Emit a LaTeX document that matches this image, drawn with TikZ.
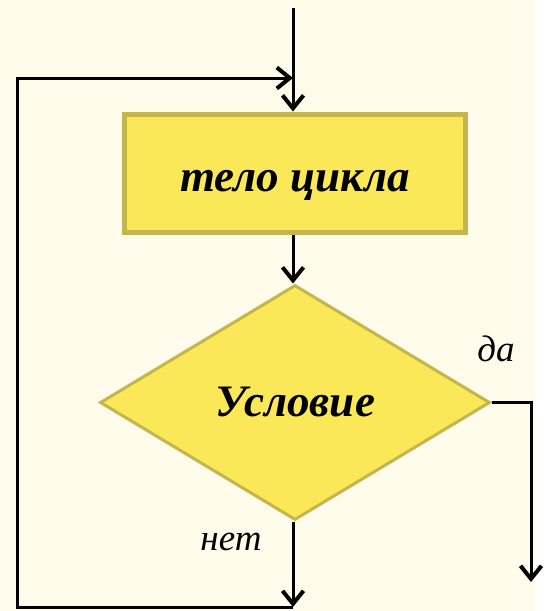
\documentclass[tikz,border=0pt]{standalone}
\usepackage{fontspec}
\setmainfont{Liberation Serif}
\usetikzlibrary{positioning,shapes.geometric,arrows.meta}
\definecolor{bgcream}{RGB}{255,252,235}
\definecolor{boxfill}{RGB}{250,232,88}
\definecolor{boxedge}{RGB}{196,181,76}

\begin{document}
\begin{tikzpicture}[x=1pt,y=-1pt,
  block/.style={draw=boxedge,fill=boxfill,line width=5pt,
    font=\bfseries\itshape\fontsize{45}{50}\selectfont},
  flow/.style={line width=3pt,-{Straight Barb[length=13pt,width=21pt,line width=4pt]}},
  lbl/.style={font=\itshape\fontsize{37}{40}\selectfont}]
  \fill[bgcream] (0,0) rectangle (535,611);
  \coordinate (entry) at (293,8);
  \node (body) [block,minimum width=341pt,minimum height=118pt,
    text height=46pt,text depth=9pt] at (295,173) {тело цикла};
  \node (cond) [block,diamond,line width=3pt,minimum width=390pt,minimum height=235pt,below=49pt of body] {Условие};
  \node (yes) [lbl] at (496,349) {да};
  \node (no) [lbl] at (231,542) {нет};
  \coordinate (yesend) at (531,582);
  \coordinate (leftbot) at (17,607);
  \coordinate (lefttop) at (17,78);

  \path[flow]
    (entry) edge (entry |- body.north)
    (entry |- body.south) edge (entry |- cond.north);
  \draw[flow] (cond.east) -| (yesend);
  \draw[flow] (entry |- cond.south) -- (entry |- leftbot);
  \draw[flow] (entry |- leftbot) -- (leftbot) -- (lefttop) -- (lefttop -| entry);
\end{tikzpicture}
\end{document}
